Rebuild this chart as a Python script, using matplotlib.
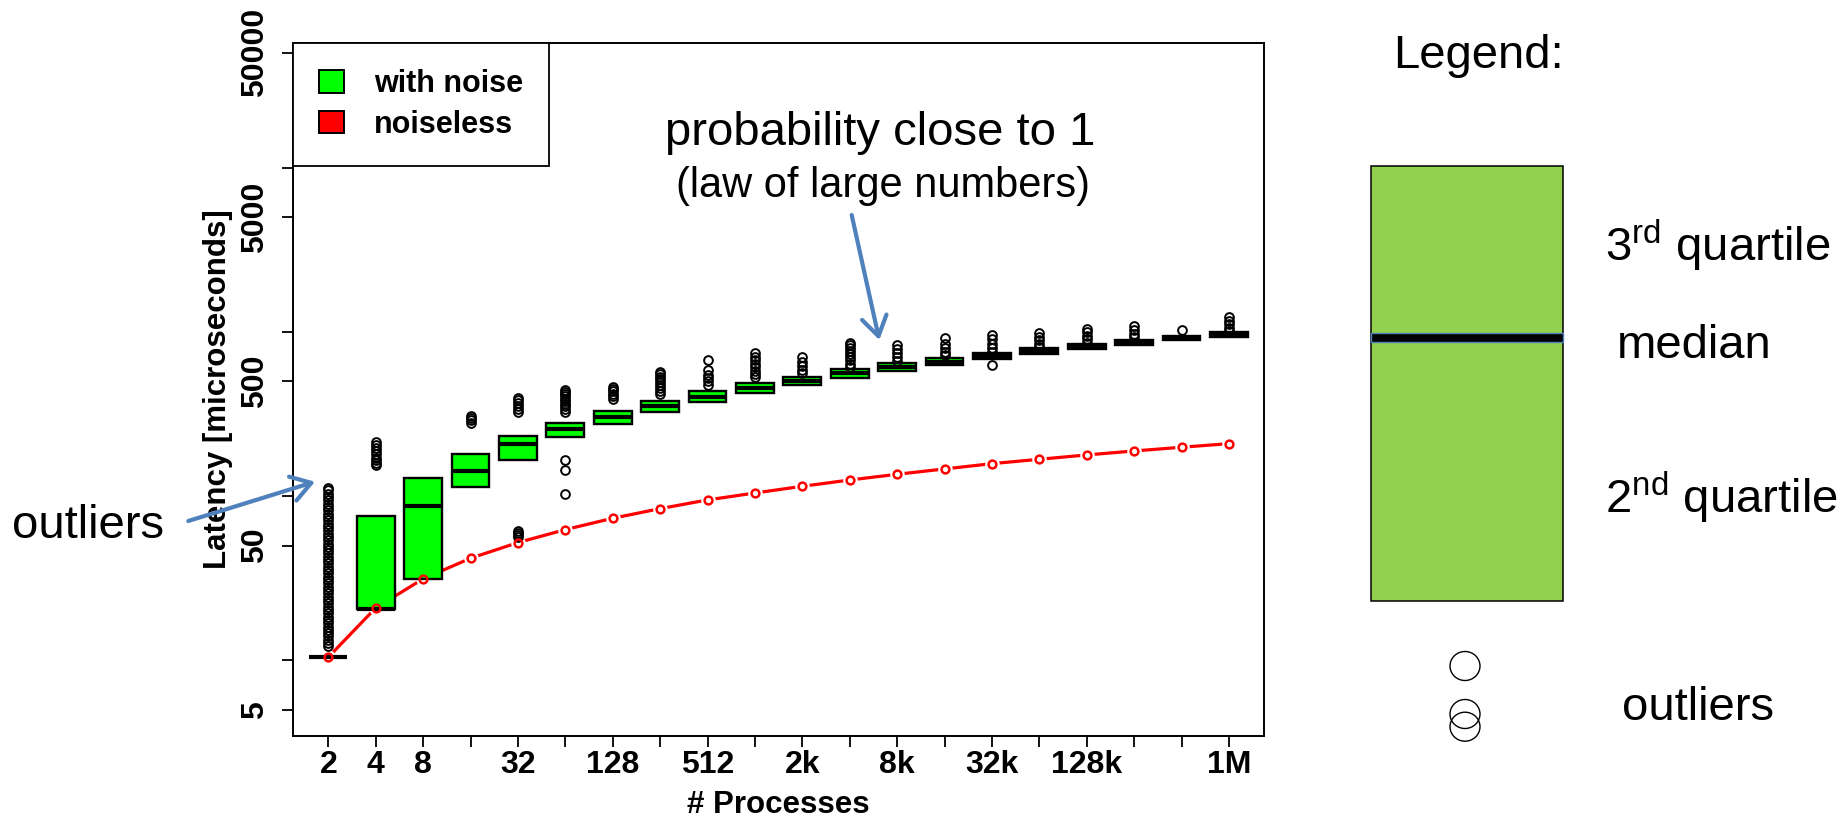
import numpy as np
import matplotlib
matplotlib.use('Agg')
import matplotlib.pyplot as plt
from matplotlib.patches import Patch, Rectangle, Ellipse
from matplotlib.ticker import NullLocator

plt.rcParams['font.family'] = ['Liberation Sans', 'DejaVu Sans']
plt.rcParams['mathtext.fontset'] = 'custom'
plt.rcParams['mathtext.rm'] = 'Liberation Sans'

# number of processes (2 .. 1M), one box per power of two
processes = [2, 4, 8, 16, 32, 64, 128, 256, 512, 1024, 2048, 4096, 8192,
             16384, 32768, 65536, 131072, 262144, 524288, 1048576]
tick_labels = ['2', '4', '8', '', '32', '', '128', '', '512', '', '2k', '',
               '8k', '', '32k', '', '128k', '', '', '1M']

# with noise: quartiles and median (microseconds)
q1 = [10.5, 20.6, 31.2, 114.3, 166.2, 230.4, 275.2, 327.0, 374.7, 423.4,
      475.5, 526.5, 581.0, 629.5, 684.5, 734.5, 784.0, 833.0, 889.6, 931.6]
median = [10.5, 20.7, 87.6, 142.5, 207.0, 255.5, 305.0, 354.0, 403.6, 454.0,
          505.0, 560.0, 612.0, 659.0, 714.0, 765.7, 813.0, 865.0, 918.8, 967.0]
q3 = [10.5, 75.8, 129.7, 180.7, 233.8, 278.0, 331.6, 381.5, 437.0, 487.0,
      534.0, 592.0, 644.5, 691.0, 741.5, 795.5, 844.7, 897.0, 948.6, 999.0]

# outliers per box
outliers = [
    [12.2, 12.8, 13.4, 14.0, 14.7, 15.4, 16.1, 16.9, 17.7, 18.5, 19.4, 20.3,
     21.3, 22.3, 23.4, 24.5, 25.7, 26.9, 28.2, 29.5, 30.9, 32.4, 33.9, 35.5,
     37.2, 39.0, 40.8, 42.8, 44.8, 46.9, 49.2, 51.5, 54.0, 56.5, 59.2, 62.0,
     65.0, 68.1, 71.3, 74.7, 78.3, 82.0, 85.9, 90.0, 94.3, 98.8, 103.5,
     108.4, 112.0],
    [155, 160, 166, 172, 180, 188, 196, 205, 215],
    [],
    [278, 290, 300, 308],
    [56.7, 58, 60, 61.7, 327, 340, 355, 370, 384, 395],
    [103.2, 144.5, 166.2, 327, 340, 352, 365, 378, 392, 405, 418, 430, 443],
    [391, 405, 420, 435, 450, 462],
    [418, 435, 455, 475, 495, 515, 535, 555, 573],
    [476, 500, 525, 550, 587, 675],
    [530, 555, 580, 610, 640, 670, 705, 741],
    [565, 590, 620, 655, 701],
    [615, 640, 670, 700, 730, 765, 800, 830, 860],
    [666, 700, 740, 790, 833],
    [724, 760, 800, 850, 915],
    [629.5, 758, 800, 850, 900, 958],
    [813, 850, 890, 935, 981],
    [860, 900, 950, 1000, 1046],
    [928, 975, 1030, 1087],
    [1027],
    [1017, 1060, 1110, 1165, 1228],
]

# noiseless latency
noiseless = [10.47, 20.9, 31.4, 41.9, 52.2, 62.6, 73.4, 84.0, 94.9, 104.6,
             114.9, 125.5, 136.0, 146.5, 157.8, 167.8, 178.3, 188.5, 198.6, 208.9]

W, H = 1842, 818
fig = plt.figure(figsize=(W / 100, H / 100), dpi=100)
ax = fig.add_axes([292.7 / W, 1 - 736 / H, (1264 - 292.7) / W, (736 - 43) / H])

pos = np.arange(1, len(processes) + 1)
stats = []
for a, m, b, f in zip(q1, median, q3, outliers):
    stats.append(dict(med=m, q1=a, q3=b, whislo=a, whishi=b, fliers=f))

# red line, R style type="b" (line stops short of the points)
ax.plot(pos, noiseless, color='red', lw=2.3, zorder=1)
ax.plot(pos, noiseless, ls='none', marker='o', ms=10.5, mfc='white', mec='none', zorder=1.5)

ax.bxp(stats, positions=pos, widths=0.8, patch_artist=True, showcaps=False,
       boxprops=dict(facecolor='#00ff00', edgecolor='black', linewidth=1.7),
       medianprops=dict(color='black', linewidth=3.0, solid_capstyle='butt'),
       whiskerprops=dict(linewidth=0),
       flierprops=dict(marker='o', markerfacecolor='none', markeredgecolor='black',
                       markersize=6.3, markeredgewidth=1.4),
       zorder=2)

ax.plot(pos, noiseless, ls='none', marker='o', ms=5.6, mfc='none', mec='red',
        mew=1.8, zorder=4)

ax.set_yscale('log')
ax.set_ylim(3.47, 57370)
ax.set_xlim(0.249, 20.74)
ax.set_yticks([5, 10, 50, 100, 500, 1000, 5000, 10000, 50000])
ax.set_yticklabels(['5', '', '50', '', '500', '', '5000', '', '50000'])
ax.yaxis.set_minor_locator(NullLocator())
ax.set_xticks(pos)
ax.set_xticklabels(tick_labels)

ax.tick_params(axis='both', direction='out', length=8, width=1.3, labelsize=23)
ax.tick_params(axis='x', pad=2)
ax.tick_params(axis='y', pad=8.4, labelrotation=90)
for t in ax.get_yticklabels():
    t.set_va('center')
    t.set_fontweight('bold')
for t in ax.get_xticklabels():
    t.set_fontweight('bold')
for s in ax.spines.values():
    s.set_linewidth(1.4)

ax.set_xlabel('# Processes', fontsize=22.5, fontweight='bold')
ax.xaxis.set_label_coords(0.5, -0.078)
ax.set_ylabel('Latency [microseconds]', fontsize=22.5, fontweight='bold')
ax.yaxis.set_label_coords(-0.061, 0.5)

handles = [Patch(facecolor='#00ff00', edgecolor='black', lw=1.4, label='with noise'),
           Patch(facecolor='red', edgecolor='black', lw=1.4, label='noiseless')]
leg = ax.legend(handles=handles, loc='upper left', bbox_to_anchor=(0, 1),
                borderaxespad=0, fancybox=False, edgecolor='black', framealpha=1,
                prop=dict(weight='bold', size=22), handlelength=0.82,
                handleheight=0.75, handletextpad=1.0, borderpad=0.85,
                labelspacing=0.35)
leg.get_frame().set_linewidth(1.3)

# overlay in pixel coordinates for annotations and the explanatory legend
pan = fig.add_axes([0, 0, 1, 1])
pan.set_xlim(0, W)
pan.set_ylim(H, 0)
pan.axis('off')

blue = '#4F81BD'
arrow = dict(arrowstyle='->, head_length=0.7, head_width=0.45', color=blue, lw=3,
             mutation_scale=20, shrinkA=0, shrinkB=0)

pan.text(11.7, 538.3, 'outliers', fontsize=34, va='baseline')
pan.annotate('', xy=(315, 481.7), xytext=(188.3, 521), arrowprops=arrow)

pan.text(880, 145, 'probability close to 1', fontsize=34, ha='center', va='baseline')
pan.text(883, 196.7, '(law of large numbers)', fontsize=30, ha='center', va='baseline')
pan.annotate('', xy=(879.3, 340), xytext=(851.7, 215), arrowprops=arrow)

pan.text(1393, 68, 'Legend:', fontsize=34, va='baseline')
pan.add_patch(Rectangle((1370.7, 166), 192, 435, facecolor='#92D050',
                        edgecolor='black', lw=1.1))
pan.add_patch(Rectangle((1370.7, 333.3), 192, 9, facecolor='black',
                        edgecolor=blue, lw=1.0))
pan.text(1605, 261, r'3$^{\rm rd}$ quartile', fontsize=34, va='baseline')
pan.text(1616.7, 358, 'median', fontsize=34, va='baseline')
pan.text(1605, 513, r'2$^{\rm nd}$ quartile', fontsize=34, va='baseline')
for cy in [666, 714, 726.7]:
    pan.add_patch(Ellipse((1465, cy), 30, 29, facecolor='none', edgecolor='black', lw=1.0))
pan.text(1621.7, 720, 'outliers', fontsize=34, va='baseline')

fig.savefig('out.png', dpi=100)
